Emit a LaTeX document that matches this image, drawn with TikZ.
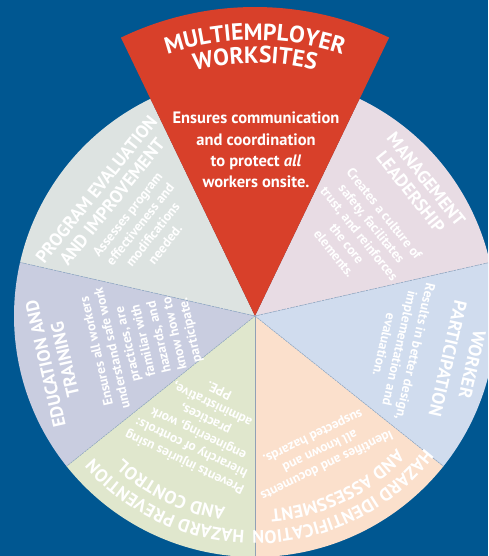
\documentclass[tikz,border=0pt]{standalone}
\usepackage{fontspec}
\setmainfont{PT Sans}
\usetikzlibrary{decorations.text}
\definecolor{bgblue}{RGB}{0,87,145}
\definecolor{redsec}{RGB}{216,64,42}
\definecolor{mgmtcol}{RGB}{232,220,228}
\definecolor{workcol}{RGB}{208,220,238}
\definecolor{hazidcol}{RGB}{251,224,204}
\definecolor{prevcol}{RGB}{224,231,205}
\definecolor{educol}{RGB}{201,205,224}
\definecolor{progcol}{RGB}{221,227,225}
\definecolor{sepcol}{RGB}{150,170,195}
\newcommand\mytitlefont{\bfseries\fontsize{18}{20}\selectfont}
\newcommand\mybodyfont{\bfseries\fontsize{13.5}{16}\selectfont}
\newcommand\myredtitlefont{\bfseries\fontsize{23.5}{26}\selectfont}
\newcommand\myredbodyfont{\bfseries\fontsize{16.5}{21.3}\selectfont}
\begin{document}
\begin{tikzpicture}[x=1pt,y=1pt,
  sepline/.style={draw=sepcol, line width=0.6pt, dash pattern=on 2pt off 1pt},
  titletext/.style={text=white, font=\mytitlefont, align=center, inner sep=0pt},
  bodytext/.style={text=white, font=\mybodyfont, align=center, inner sep=0pt},
  redbody/.style={text=white, font=\myredbodyfont, align=center, inner sep=0pt},
  arctext/.style={decorate, decoration={text along path, text align=center, text color=white, text={#1}}}]
\useasboundingbox (-255,-240) rectangle (233,316);
\clip (-255,-240) rectangle (233,316);
\fill[bgblue] (-255,-240) rectangle (233,316);
% sectors
\fill[progcol] (0,0) -- (115.7143:241) arc[start angle=115.7143, end angle=167.1429, radius=241] -- cycle;
\fill[educol] (0,0) -- (167.1429:241) arc[start angle=167.1429, end angle=218.5714, radius=241] -- cycle;
\fill[prevcol] (0,0) -- (218.5714:241) arc[start angle=218.5714, end angle=270, radius=241] -- cycle;
\fill[hazidcol] (0,0) -- (270:241) arc[start angle=270, end angle=321.4286, radius=241] -- cycle;
\fill[workcol] (0,0) -- (321.4286:241) arc[start angle=321.4286, end angle=372.8571, radius=241] -- cycle;
\fill[mgmtcol] (0,0) -- (12.8571:241) arc[start angle=12.8571, end angle=64.2857, radius=241] -- cycle;
% separators
\coordinate (c) at (0,0);
\coordinate (s2) at (167.1429:241);
\coordinate (s3) at (218.5714:241);
\coordinate (s4) at (270:241);
\coordinate (s5) at (321.4286:241);
\coordinate (s6) at (12.8571:241);
\draw[sepline] (c) -- (s2);
\draw[sepline] (c) -- (s3);
\draw[draw=sepcol!80!gray, line width=0.8pt] (c) -- (s4);
\draw[sepline] (c) -- (s5);
\draw[sepline] (c) -- (s6);
% red sector
\fill[redsec] (0,0) -- (64.2857:309) arc[start angle=64.2857, end angle=115.7143, radius=309] -- cycle;
\path[arctext={|\myredtitlefont|MULTIEMPLOYER}] (120:276) arc[start angle=120, end angle=60, radius=276];
\path[arctext={|\myredtitlefont|WORKSITES}] (120:253) arc[start angle=120, end angle=60, radius=253];
\node[redbody] (redB) at (1,166) {Ensures communication\\and coordination\\to protect \textit{all}\\workers onsite.};
% management leadership
\node[titletext, rotate=-51.4286] (mgmtT) at (38.57:209) {MANAGEMENT\\LEADERSHIP};
\node[bodytext, rotate=-51.4286] (mgmtB) at (38.3:133) {Creates a culture of\\safety, facilitates\\trust, and reinforces\\the core\\elements.};
% worker participation
\node[titletext, rotate=-102.857] (workT) at (-12.5:210) {WORKER\\[5pt]PARTICIPATION};
\node[bodytext, rotate=-102.857] (workB) at (-12.6:148.5) {Results in better design,\\implementation and\\evaluation.};
% hazard identification
\path[arctext={|\mytitlefont|HAZARD IDENTIFICATION}] (-28:215) arc[start angle=-28, end angle=-100.57, radius=215];
\path[arctext={|\mytitlefont|AND ASSESSMENT}] (-28:194) arc[start angle=-28, end angle=-100.57, radius=194];
\node[bodytext, rotate=-154.286] (hazidB) at (-64.3:149) {Identifies and documents\\all known and\\suspected hazards.};
% hazard prevention
\path[arctext={|\mytitlefont|HAZARD PREVENTION}] (-79.43:215) arc[start angle=-79.43, end angle=-152, radius=215];
\path[arctext={|\mytitlefont|AND CONTROL}] (-79.43:194) arc[start angle=-79.43, end angle=-152, radius=194];
\node[bodytext, rotate=154.286] (prevB) at (-115.7:123) {Prevents injuries using\\hierarchy of controls:\\engineering, work\\practices,\\administrative,\\PPE.};
% education and training
\node[titletext, rotate=102.857] (eduT) at (192.86:205) {EDUCATION AND\\TRAINING};
\node[bodytext, rotate=102.857] (eduB) at (192.5:113.5) {Ensures all workers\\understand safe work\\practices, are\\familiar with\\hazards, and\\know how to\\participate.};
% program evaluation
\node[titletext, rotate=51.4286] (progT) at (141.43:193) {PROGRAM EVALUATION\\AND IMPROVEMENT};
\node[bodytext, rotate=51.4286] (progB) at (141.43:139) {Assesses program\\effectiveness and\\modifications\\needed.};
\end{tikzpicture}
\end{document}
